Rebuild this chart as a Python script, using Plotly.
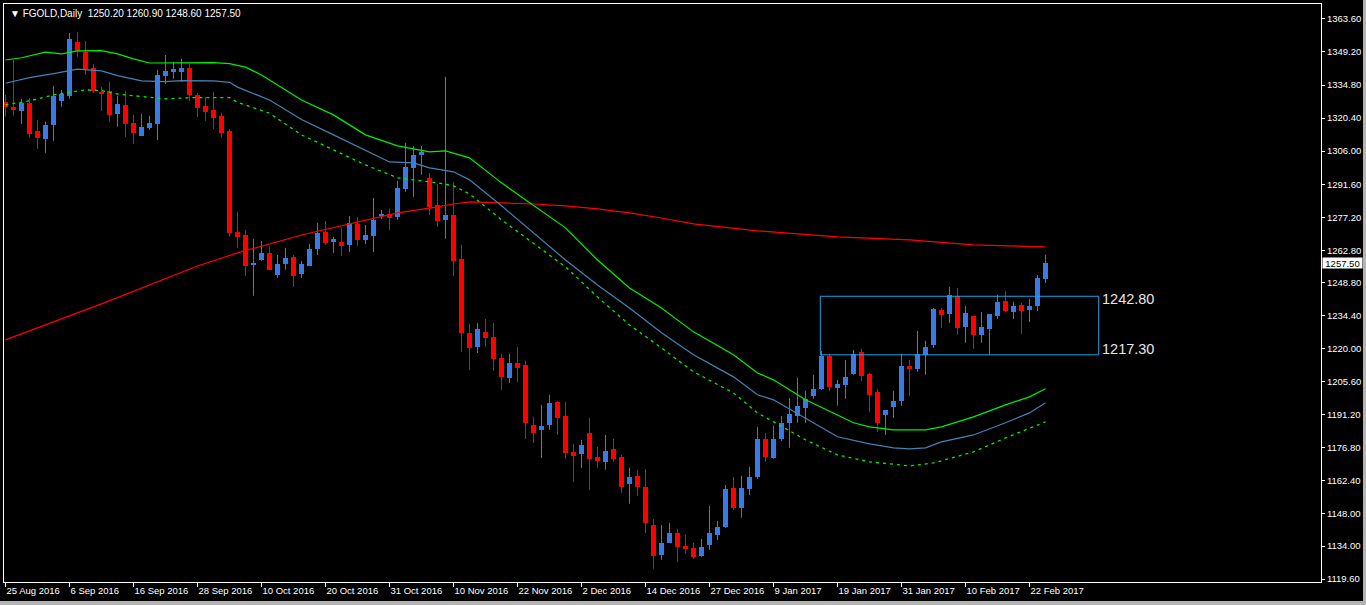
import plotly.graph_objects as go

# ---------------- data ----------------
opens = [1327.3, 1325.3, 1323.7, 1327.0, 1314.8, 1311.3, 1317.4, 1327.9, 1330.1, 1353.6,
         1349.2, 1342.3, 1331.9, 1332.3, 1322.2, 1326.2, 1318.3, 1312.7, 1316.1, 1317.9,
         1338.8, 1340.5, 1340.5, 1342.3, 1330.5, 1325.7, 1324.0, 1321.4, 1314.8, 1270.8,
         1269.5, 1256.6, 1258.6, 1261.7, 1252.1, 1256.9, 1259.9, 1252.5, 1256.0, 1263.4,
         1270.8, 1266.5, 1266.5, 1265.2, 1274.3, 1267.4, 1269.1, 1277.8, 1278.7, 1277.4,
         1289.6, 1298.7, 1304.4, 1294.4, 1282.6, 1276.1, 1278.2, 1259.1, 1226.9, 1220.7,
         1227.3, 1225.1, 1216.0, 1207.3, 1213.8, 1212.9, 1186.8, 1184.6, 1186.8, 1196.8,
         1190.7, 1175.0, 1174.1, 1183.3, 1172.8, 1170.7, 1176.3, 1172.8, 1161.1, 1164.6,
         1159.8, 1143.2, 1130.2, 1135.4, 1139.7, 1134.1, 1133.2, 1129.7, 1134.5, 1138.9,
         1142.4, 1159.3, 1150.6, 1158.9, 1164.1, 1180.7, 1172.4, 1180.7, 1187.7, 1190.7,
         1194.2, 1199.4, 1202.5, 1216.8, 1202.9, 1204.2, 1209.0, 1218.6, 1209.0, 1201.2,
         1191.1, 1194.6, 1197.2, 1212.5, 1211.2, 1217.3, 1221.6, 1236.9, 1235.1, 1243.0,
         1229.5, 1234.3, 1226.0, 1228.6, 1234.3, 1240.8, 1236.0, 1239.0, 1236.9, 1238.6,
         1250.2]
highs = [1330.5, 1345.7, 1328.8, 1329.1, 1319.6, 1318.9, 1334.4, 1332.7, 1357.5, 1357.9,
         1354.0, 1344.0, 1334.0, 1336.2, 1330.1, 1332.2, 1321.8, 1322.2, 1321.4, 1341.4,
         1347.9, 1344.9, 1346.2, 1344.0, 1331.4, 1329.6, 1331.8, 1322.7, 1315.7, 1279.6,
         1271.7, 1267.8, 1266.9, 1264.3, 1260.8, 1263.9, 1260.8, 1258.2, 1265.6, 1274.8,
         1275.6, 1268.7, 1272.6, 1277.8, 1277.4, 1273.9, 1285.6, 1280.4, 1280.9, 1293.0,
         1309.6, 1308.3, 1308.3, 1296.5, 1291.7, 1338.4, 1292.6, 1265.2, 1230.8, 1231.2,
         1232.9, 1231.2, 1217.7, 1217.7, 1220.8, 1214.7, 1190.3, 1195.5, 1199.9, 1197.2,
         1196.8, 1178.5, 1180.3, 1189.8, 1177.2, 1182.4, 1180.7, 1173.7, 1168.1, 1167.2,
         1167.6, 1145.8, 1143.2, 1144.1, 1141.5, 1138.9, 1135.4, 1137.1, 1151.5, 1145.0,
         1160.6, 1164.1, 1164.6, 1168.5, 1185.9, 1183.3, 1186.4, 1190.7, 1198.5, 1207.3,
         1201.6, 1208.6, 1219.0, 1217.7, 1206.4, 1215.1, 1219.4, 1219.9, 1209.4, 1202.5,
         1193.3, 1201.6, 1217.7, 1215.1, 1227.7, 1223.4, 1237.7, 1237.7, 1246.9, 1246.4,
         1238.6, 1234.3, 1236.0, 1235.1, 1243.4, 1245.1, 1240.4, 1239.9, 1241.7, 1252.1,
         1260.9]
lows = [1321.1, 1321.5, 1317.9, 1311.9, 1307.0, 1305.3, 1310.5, 1325.3, 1328.8, 1347.1,
        1339.2, 1331.4, 1323.5, 1318.7, 1316.6, 1312.2, 1309.2, 1312.7, 1315.3, 1310.9,
        1335.3, 1337.5, 1336.2, 1327.9, 1320.9, 1319.2, 1315.7, 1311.8, 1268.7, 1263.9,
        1251.7, 1243.0, 1258.2, 1254.3, 1250.8, 1254.3, 1246.9, 1250.8, 1256.0, 1260.8,
        1265.2, 1261.7, 1260.4, 1262.1, 1264.7, 1265.6, 1262.1, 1276.5, 1271.7, 1276.1,
        1288.3, 1286.1, 1295.7, 1278.2, 1273.0, 1267.8, 1251.7, 1218.6, 1210.7, 1218.1,
        1220.8, 1210.3, 1202.0, 1205.1, 1205.5, 1180.7, 1178.9, 1172.4, 1184.6, 1182.4,
        1172.0, 1162.0, 1168.1, 1158.5, 1168.1, 1167.2, 1170.7, 1157.2, 1152.4, 1155.9,
        1139.7, 1124.1, 1128.0, 1135.4, 1127.1, 1130.6, 1128.5, 1129.3, 1132.4, 1136.7,
        1141.9, 1149.8, 1146.3, 1156.3, 1163.3, 1170.7, 1172.0, 1179.8, 1176.8, 1187.7,
        1187.7, 1198.1, 1202.0, 1201.6, 1195.1, 1198.1, 1208.6, 1205.9, 1192.5, 1183.7,
        1182.4, 1189.8, 1195.1, 1199.4, 1209.9, 1208.6, 1220.3, 1229.0, 1231.2, 1226.0,
        1222.5, 1219.9, 1222.5, 1217.3, 1232.9, 1236.0, 1232.9, 1226.4, 1231.6, 1236.4,
        1248.6]
closes = [1325.3, 1324.1, 1326.9, 1313.5, 1311.9, 1317.4, 1330.1, 1330.8, 1354.9, 1349.7,
          1341.8, 1332.2, 1330.9, 1321.8, 1326.6, 1317.9, 1314.0, 1316.6, 1318.3, 1339.2,
          1341.0, 1341.8, 1342.3, 1330.5, 1324.8, 1323.1, 1320.5, 1314.0, 1270.4, 1268.7,
          1256.0, 1257.5, 1261.7, 1254.3, 1256.9, 1259.5, 1251.7, 1256.9, 1263.4, 1270.4,
          1266.0, 1267.8, 1264.7, 1274.8, 1267.4, 1269.5, 1276.1, 1278.7, 1276.9, 1290.0,
          1299.1, 1304.4, 1305.7, 1281.7, 1275.6, 1278.2, 1258.2, 1226.9, 1220.3, 1228.6,
          1224.7, 1215.5, 1207.7, 1213.8, 1211.6, 1187.7, 1183.3, 1186.4, 1196.4, 1189.8,
          1174.6, 1173.3, 1178.1, 1172.0, 1171.1, 1175.4, 1172.0, 1159.8, 1164.1, 1159.8,
          1144.1, 1129.7, 1135.4, 1139.7, 1133.6, 1132.8, 1129.3, 1133.6, 1139.7, 1142.4,
          1158.9, 1150.6, 1159.3, 1164.1, 1180.7, 1172.8, 1180.7, 1187.7, 1191.6, 1195.1,
          1198.1, 1202.5, 1216.8, 1203.3, 1204.6, 1207.7, 1217.7, 1208.1, 1199.9, 1187.7,
          1193.3, 1197.2, 1212.5, 1211.2, 1217.7, 1220.8, 1237.3, 1234.7, 1243.4, 1229.0,
          1235.6, 1226.0, 1229.5, 1235.1, 1240.4, 1236.4, 1238.6, 1236.4, 1238.6, 1250.8,
          1257.5]

# indicator lines: bar index -> value
env_up_idx = [0, 2, 5, 7, 9, 12, 14, 16, 18, 22, 26, 28, 30, 32, 37, 41, 45, 49, 53, 55,
              58, 62, 65, 70, 74, 78, 82, 86, 91, 94, 96, 100, 104, 106, 108, 111, 115,
              117, 121, 125, 128, 130]
env_up_val = [1345.7, 1346.7, 1349.1, 1348.4, 1349.7, 1349.8, 1348.4, 1346.2, 1344.4,
              1344.6, 1344.6, 1344.1, 1342.6, 1339.2, 1328.3, 1321.8, 1313.1, 1308.3,
              1305.7, 1306.1, 1303.1, 1292.2, 1284.8, 1272.6, 1258.6, 1246.4, 1237.7,
              1227.3, 1217.3, 1209.4, 1206.4, 1197.7, 1191.1, 1187.7, 1185.9, 1184.6,
              1184.6, 1185.9, 1190.3, 1195.5, 1199.0, 1202.5]
ma_mid_idx = [0, 3, 6, 9, 12, 14, 17, 20, 22, 26, 28, 29, 33, 37, 41, 45, 48, 51, 53, 56,
              58, 62, 66, 70, 74, 78, 82, 86, 91, 94, 96, 100, 104, 108, 111, 113, 115,
              117, 121, 125, 128, 130]
ma_mid_val = [1335.6, 1338.0, 1339.8, 1341.7, 1341.0, 1338.9, 1336.6, 1336.3, 1336.7,
              1336.6, 1336.0, 1333.9, 1328.3, 1319.8, 1313.1, 1306.5, 1301.3, 1300.9,
              1298.7, 1297.0, 1293.5, 1282.2, 1270.4, 1258.6, 1247.7, 1237.7, 1226.9,
              1217.3, 1207.7, 1199.9, 1197.7, 1189.8, 1181.6, 1178.5, 1176.8, 1176.3,
              1176.8, 1179.4, 1182.4, 1187.7, 1192.0, 1196.4]
env_dn_idx = [0, 3, 6, 10, 12, 14, 17, 20, 23, 28, 29, 33, 37, 41, 45, 49, 54, 56, 58, 62,
              66, 70, 74, 78, 82, 86, 91, 94, 96, 100, 104, 108, 113, 116, 121, 125, 130]
env_dn_val = [1326.2, 1327.9, 1330.5, 1332.7, 1332.4, 1330.9, 1329.8, 1328.8, 1329.3,
              1329.3, 1327.3, 1322.5, 1313.1, 1306.5, 1300.0, 1294.4, 1292.2, 1290.9,
              1287.4, 1276.1, 1266.0, 1255.6, 1242.5, 1230.3, 1220.3, 1209.9, 1200.7,
              1192.0, 1188.1, 1180.3, 1173.7, 1170.7, 1168.9, 1170.2, 1175.0, 1181.1,
              1188.1]
ma_slow_idx = [0, 12, 24, 29, 37, 49, 54, 56, 58, 62, 66, 70, 74, 78, 82, 86, 91, 94,
               104, 113, 121, 130]
ma_slow_val = [1223.8, 1239.5, 1256.0, 1261.7, 1269.5, 1279.1, 1281.7, 1283.0, 1283.9,
               1283.5, 1283.0, 1282.2, 1280.9, 1279.1, 1276.9, 1274.3, 1272.6, 1271.3,
               1268.7, 1267.4, 1265.2, 1264.3]

box_levels = [1242.80, 1217.30]
price_ticks = [1363.60, 1349.20, 1334.80, 1320.40, 1306.00, 1291.60, 1277.20, 1262.80,
               1248.80, 1234.40, 1220.00, 1205.60, 1191.20, 1176.80, 1162.40, 1148.00,
               1134.00, 1119.60]
date_tick_idx = list(range(0, 129, 8))
date_labels = ["25 Aug 2016", "6 Sep 2016", "16 Sep 2016", "28 Sep 2016", "10 Oct 2016",
               "20 Oct 2016", "31 Oct 2016", "10 Nov 2016", "22 Nov 2016", "2 Dec 2016",
               "14 Dec 2016", "27 Dec 2016", "9 Jan 2017", "19 Jan 2017", "31 Jan 2017",
               "10 Feb 2017", "22 Feb 2017"]
symbol = "FGOLD,Daily"

# ---------------- styles ----------------
BULL = "#3a7ae4"
BEAR = "#ff0000"
FONT = "Liberation Sans, Arial, sans-serif"

n = len(opens)
idx = list(range(n))
bull = [i for i in idx if closes[i] >= opens[i]]
bear = [i for i in idx if closes[i] < opens[i]]

fig = go.Figure()


def wick_xy(sel):
    xs, ys = [], []
    for i in sel:
        xs += [i, i, None]
        ys += [lows[i], highs[i], None]
    return xs, ys


for sel, col in ((bull, BULL), (bear, BEAR)):
    wx, wy = wick_xy(sel)
    fig.add_trace(go.Scatter(x=wx, y=wy, mode="lines", line=dict(color=col, width=1),
                             hoverinfo="skip"))
    fig.add_trace(go.Bar(x=sel, base=[min(opens[i], closes[i]) for i in sel],
                         y=[abs(closes[i] - opens[i]) for i in sel], width=0.62,
                         marker=dict(color=col, line=dict(width=0))))

fig.add_trace(go.Scatter(x=ma_slow_idx, y=ma_slow_val, mode="lines",
                         line=dict(color="#ff0000", width=1.2)))
fig.add_trace(go.Scatter(x=env_dn_idx, y=env_dn_val, mode="lines",
                         line=dict(color="#00f000", width=1.3, dash="3px,4px")))
fig.add_trace(go.Scatter(x=ma_mid_idx, y=ma_mid_val, mode="lines",
                         line=dict(color="#4682b4", width=1.2)))
fig.add_trace(go.Scatter(x=env_up_idx, y=env_up_val, mode="lines",
                         line=dict(color="#00f000", width=1.2)))

# rectangle between the two levels
fig.add_shape(type="rect", xref="x", yref="y", x0=101.85, x1=136.65,
              y0=box_levels[1], y1=box_levels[0],
              line=dict(color="#1ca2e6", width=1), fillcolor="rgba(0,0,0,0)")

annotations = [
    dict(x=136.65, y=box_levels[0], xref="x", yref="y", text=f"{box_levels[0]:.2f}",
         showarrow=False, xanchor="left", yanchor="top", xshift=1, yshift=7,
         font=dict(family=FONT, size=14.5, color="#e6e6e6")),
    dict(x=136.65, y=box_levels[1], xref="x", yref="y", text=f"{box_levels[1]:.2f}",
         showarrow=False, xanchor="left", yanchor="bottom", xshift=1, yshift=-4,
         font=dict(family=FONT, size=14.5, color="#e6e6e6")),
    dict(x=1, y=closes[-1], xref="paper", yref="y", text=f"{closes[-1]:.2f}",
         showarrow=False, xanchor="left", yanchor="middle", xshift=1,
         bgcolor="#ffffff", width=39, height=10, borderpad=0,
         font=dict(family=FONT, size=9.5, color="#000000")),
    dict(x=(8 - 4) / 1317, y=(582 - 13) / 578, xref="paper", yref="paper",
         text="\u25bc\u00a0" + symbol + "\u00a0\u00a0" +
              "\u00a0".join(f"{v:.2f}" for v in (opens[-1], highs[-1], lows[-1], closes[-1])),
         showarrow=False, xanchor="left", yanchor="middle",
         font=dict(family=FONT, size=10, color="#ffffff")),
]

# window frame strips
shapes_extra = [
    dict(type="rect", xref="paper", yref="paper", x0=(1363 - 4) / 1317, x1=(1367 - 4) / 1317,
         y0=(582 - 606) / 578, y1=(582 + 1) / 578, fillcolor="#b4b4b4", line=dict(width=0)),
    dict(type="rect", xref="paper", yref="paper", x0=(0 - 4) / 1317 - 0.01, x1=(1367 - 4) / 1317,
         y0=(582 - 606) / 578, y1=(582 - 601) / 578, fillcolor="#b4b4b4", line=dict(width=0)),
]
for s in shapes_extra:
    fig.add_shape(**s)

fig.update_layout(
    width=1366, height=605,
    margin=dict(l=4, r=45, t=4, b=23),
    paper_bgcolor="#000000", plot_bgcolor="#000000",
    showlegend=False, barmode="overlay", bargap=0,
    annotations=annotations,
    font=dict(family=FONT, size=9.5, color="#ffffff"),
    xaxis=dict(range=[-0.1875, 164.4375], tickvals=date_tick_idx, ticktext=date_labels,
               ticks="outside", ticklen=4, tickcolor="#ffffff", tickwidth=1,
               ticklabelposition="outside right",
               showgrid=False, zeroline=False, showline=True, linecolor="#ffffff",
               linewidth=1, mirror=True, automargin=False,
               tickfont=dict(family=FONT, size=9.5, color="#ffffff")),
    yaxis=dict(range=[1118.35, 1370.1], side="right", tickvals=price_ticks,
               ticktext=[f"{v:.2f}" for v in price_ticks],
               ticks="outside", ticklen=3, tickcolor="#ffffff", tickwidth=1,
               showgrid=False, zeroline=False, showline=True, linecolor="#ffffff",
               linewidth=1, mirror=True, automargin=False,
               tickfont=dict(family=FONT, size=9.5, color="#ffffff")),
)

fig.write_html("out.html", config={"displayModeBar": False},
               post_script="document.body.style.margin='0';document.body.style.background='#000';")
